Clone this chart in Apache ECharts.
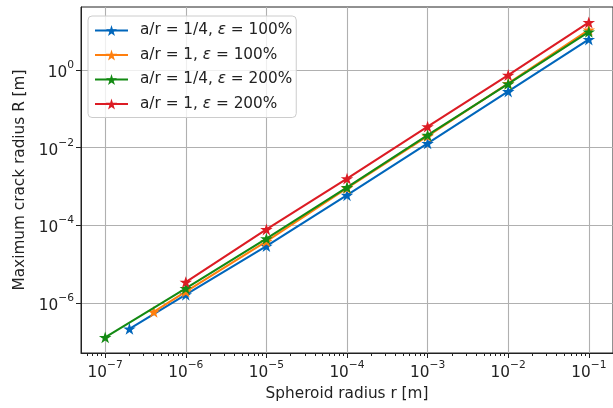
<!DOCTYPE html>
<html>
<head>
<meta charset="utf-8">
<script src="https://cdn.jsdelivr.net/npm/echarts@6/dist/echarts.min.js"></script>
<style>
html, body { margin: 0; padding: 0; background: #fff; }
#chart { width: 613px; height: 408px; }
</style>
</head>
<body>
<div id="chart"></div>
<script>
// values (log-log)
var names = [
    'a/r = 1/4, ε = 100%',
    'a/r = 1, ε = 100%',
    'a/r = 1/4, ε = 200%',
    'a/r = 1, ε = 200%'
];
var colors = ['#0066bb', '#ff7f0e', '#138a13', '#dc1c24'];

var rBlue = [2e-7, 1e-6, 1e-5, 1e-4, 1e-3, 1e-2, 1e-1];
var RBlue = [2.2e-7, 1.66e-6, 2.95e-5, 6.0e-4, 0.013, 0.28, 6.1];

var rOrange = [4e-7, 1e-6, 1e-5, 1e-4, 1e-3, 1e-2, 1e-1];
var ROrange = [6.0e-7, 2.0e-6, 3.9e-5, 9.2e-4, 0.020, 0.45, 10.8];

var rGreen = [1e-7, 1e-6, 1e-5, 1e-4, 1e-3, 1e-2, 1e-1];
var RGreen = [1.32e-7, 2.4e-6, 4.6e-5, 9.6e-4, 0.021, 0.44, 9.6];

var rRed = [1e-6, 1e-5, 1e-4, 1e-3, 1e-2, 1e-1];
var RRed = [3.5e-6, 7.9e-5, 1.6e-3, 0.035, 0.74, 16.7];

var xTicks = [1e-7, 1e-6, 1e-5, 1e-4, 1e-3, 1e-2, 1e-1];
var yTicks = [1e-6, 1e-4, 1e-2, 1];

var xMinor = [];
xTicks.concat([1]).forEach(function (d) {
    for (var k = 2; k <= 9; k++) xMinor.push(d / 10 * k);
});

var star = 'path://M100,0L122.45,69.1L195.1,69.1L136.3,111.8L158.8,180.9L100,138.2L41.2,180.9L63.7,111.8L4.9,69.1L77.55,69.1Z';
var font = 'DejaVu Sans';
var fs = 15.3;

function zip(a, b) {
    return a.map(function (v, i) { return [v, b[i]]; });
}

function powLabel(v) {
    var e = Math.round(Math.log10(v));
    var s = e < 0 ? '\u2212' + (-e) : String(e);
    return '{b|10}{s|' + s + '}';
}

var labelRich = {
    b: { fontFamily: font, fontSize: fs, color: '#222', lineHeight: 21, verticalAlign: 'bottom' },
    s: { fontFamily: font, fontSize: 10.7, color: '#222', lineHeight: 12, verticalAlign: 'top' }
};

var chart = echarts.init(document.getElementById('chart'));

var series = [
    zip(rBlue, RBlue), zip(rOrange, ROrange), zip(rGreen, RGreen), zip(rRed, RRed)
].map(function (d, i) {
    return {
        name: names[i],
        type: 'line',
        data: d,
        symbol: star,
        symbolSize: 12.5,
        symbolKeepAspect: true,
        showAllSymbol: true,
        lineStyle: { width: 2.1, color: colors[i] },
        itemStyle: { color: colors[i] },
        emphasis: { disabled: true },
        z: 2 + i
    };
});

var options = {
    animation: false,
    color: colors,
    grid: {
        left: 81, top: 7, right: -2, bottom: 55,
        show: true, borderColor: '#222', borderWidth: 1
    },
    legend: {
        left: 88, top: 16,
        orient: 'vertical',
        itemWidth: 33, itemHeight: 14, itemGap: 9.5,
        padding: [7, 4, 6, 6],
        backgroundColor: 'rgba(255,255,255,0.8)',
        borderColor: '#cccccc', borderWidth: 1, borderRadius: 4,
        formatter: function (n) { return n.replace('ε', '{e|ε}'); },
        textStyle: {
            fontFamily: font, fontSize: fs, color: '#222', lineHeight: 14, padding: [0, 0, 0, 7],
            rich: { e: { fontFamily: font, fontSize: fs, lineHeight: 14, fontStyle: 'italic', color: '#222' } }
        },
        data: names
    },
    xAxis: [{
        type: 'log',
        min: Math.pow(10, -7.3), max: Math.pow(10, -0.7),
        name: 'Spheroid radius r [m]',
        nameLocation: 'middle', nameGap: 34,
        nameTextStyle: { fontFamily: font, fontSize: fs, color: '#222' },
        axisLine: { lineStyle: { color: '#222', width: 1 } },
        axisTick: { customValues: xTicks, length: 5, lineStyle: { color: '#222' } },
        axisLabel: { customValues: xTicks, formatter: powLabel, rich: labelRich, margin: 7 },
        splitLine: { show: true, lineStyle: { color: '#b0b0b0', width: 1.1 } }
    }, {
        type: 'log',
        min: Math.pow(10, -7.3), max: Math.pow(10, -0.7),
        position: 'bottom',
        axisLine: { show: false },
        axisTick: { customValues: xMinor, length: 3, lineStyle: { color: '#222' } },
        axisLabel: { show: false },
        splitLine: { show: false }
    }],
    yAxis: {
        type: 'log',
        min: Math.pow(10, -7.28), max: Math.pow(10, 1.62),
        name: 'Maximum crack radius R [m]',
        nameLocation: 'middle', nameGap: 53,
        nameTextStyle: { fontFamily: font, fontSize: fs, color: '#222' },
        axisLine: { lineStyle: { color: '#222', width: 1 } },
        axisTick: { customValues: yTicks, length: 5, lineStyle: { color: '#222' } },
        axisLabel: { customValues: yTicks, formatter: powLabel, rich: labelRich, margin: 7 },
        splitLine: { show: true, lineStyle: { color: '#b0b0b0', width: 1.1 } }
    },
    series: series
};

chart.setOption(options);
</script>
</body>
</html>
